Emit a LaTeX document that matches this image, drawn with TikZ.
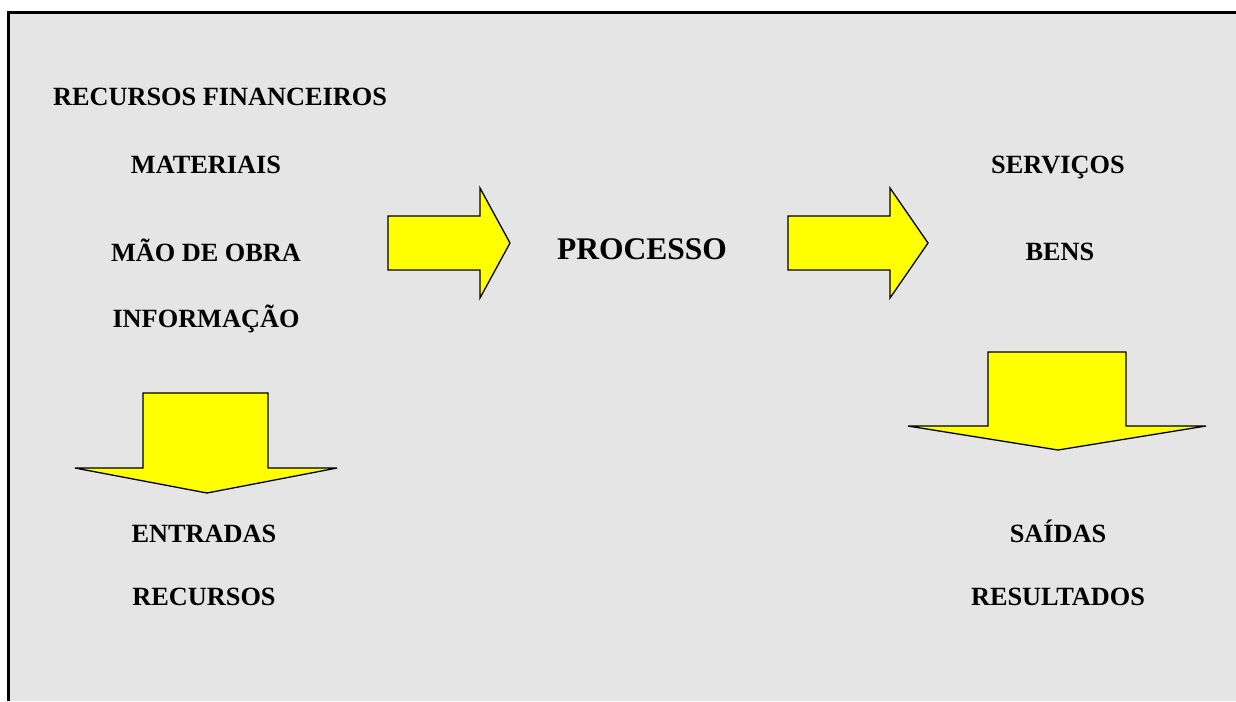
\documentclass[tikz,border=0pt]{standalone}
\usepackage{fontspec}
\setmainfont{Liberation Serif}
\definecolor{panel}{HTML}{E5E5E5}
\definecolor{arrowyellow}{HTML}{FFFF00}
\tikzset{
  lbl/.style={anchor=base, font=\fontsize{26.3}{30}\selectfont\bfseries, inner sep=0pt},
  biglbl/.style={anchor=base, font=\fontsize{31.5}{36}\selectfont\bfseries, inner sep=0pt},
  blockarrow/.style={draw=black, line width=1.3pt, fill=arrowyellow, line join=miter},
  frame/.style={draw=black, line width=2.6pt}
}
\begin{document}
\begin{tikzpicture}[x=1pt,y=-1pt]
\useasboundingbox (0,0) rectangle (1236,701);
\fill[white] (0,0) rectangle (1236,701);
\fill[panel] (8.7,12.5) rectangle (1236,701);
\draw[frame] (8.7,701) -- (8.7,12.5) -- (1236,12.5);

% right arrows
\draw[blockarrow] (388,216) -- (480,216) -- (480,188) -- (510,243) -- (480,298) -- (480,270) -- (388,270) -- cycle;
\draw[blockarrow] (788,216) -- (890,216) -- (890,188) -- (928,243) -- (890,298) -- (890,270) -- (788,270) -- cycle;

% down arrows
\draw[blockarrow] (143,393) -- (268,393) -- (268,468) -- (337,468) -- (207,493) -- (75,468) -- (143,468) -- cycle;
\draw[blockarrow] (988,352) -- (1126,352) -- (1126,426) -- (1206,426) -- (1058,450) -- (908,426) -- (988,426) -- cycle;

% labels
\node[lbl] (finan) at (220,105) {RECURSOS FINANCEIROS};
\node[lbl] (mat) at (206,173) {MATERIAIS};
\node[lbl] (mao) at (206,261) {MÃO DE OBRA};
\node[lbl] (info) at (206,327) {INFORMAÇÃO};
\node[biglbl] (proc) at (642,259) {PROCESSO};
\node[lbl] (serv) at (1058,173) {SERVIÇOS};
\node[lbl] (bens) at (1060,260) {BENS};
\node[lbl] (entr) at (204,542) {ENTRADAS};
\node[lbl] (recu) at (204,605) {RECURSOS};
\node[lbl] (said) at (1058,542) {SAÍDAS};
\node[lbl] (resu) at (1058,605) {RESULTADOS};
\end{tikzpicture}
\end{document}
